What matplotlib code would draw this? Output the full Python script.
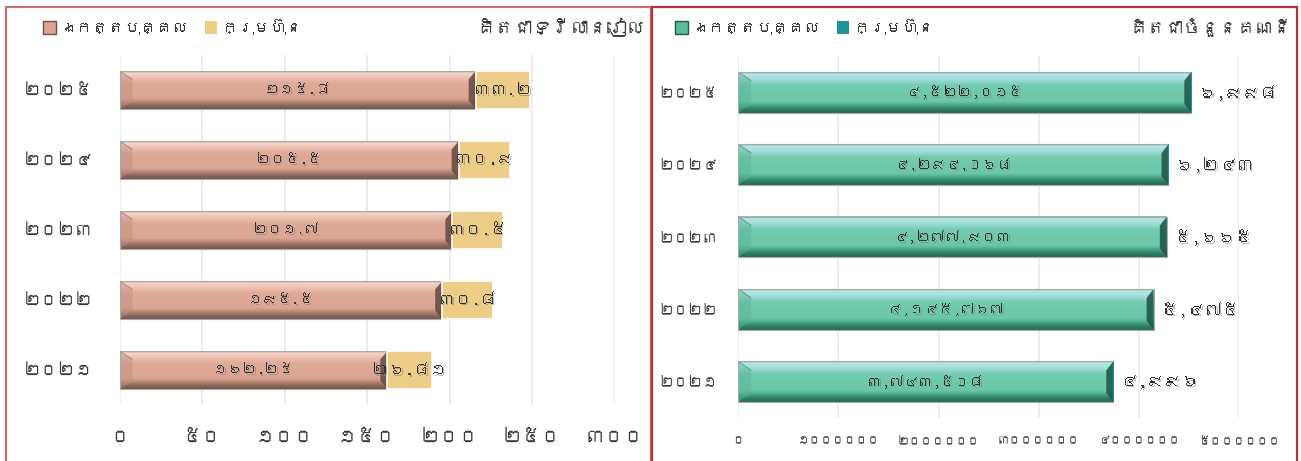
import numpy as np
import matplotlib
matplotlib.use("Agg")
import matplotlib.pyplot as plt
from matplotlib import font_manager, patheffects as pe
from matplotlib.ft2font import FT2Font
from matplotlib.patches import Polygon, Rectangle, Patch
from matplotlib.colors import LinearSegmentedColormap

# ---- data -------------------------------------------------------------
years = ["២០២៥", "២០២៤", "២០២៣", "២០២២", "២០២១"]

# deposits, trillion riel
individual_riel = [215.8, 205.5, 201.7, 195.5, 162.25]
company_riel = [33.2, 30.9, 30.5, 30.8, 26.81]

# number of accounts
individual_acc = [4522015, 4294068, 4277903, 4145767, 3743508]
company_acc = [6998, 6243, 5665, 5475, 4996]

legend_labels = ["ឯកត្តបុគ្គល", "ក្រុមហ៊ុន"]
title_riel = "គិតជាទ្រីលានរៀល"
title_acc = "គិតជាចំនួនគណនី"

riel_ticks = [0, 50, 100, 150, 200, 250, 300]
riel_tick_labels = ["០", "៥០", "១០០", "១៥០", "២០០", "២៥០", "៣០០"]
acc_ticks = [0, 1000000, 2000000, 3000000, 4000000, 5000000]
acc_tick_labels = ["០", "១០០០០០០", "២០០០០០០", "៣០០០០០០", "៤០០០០០០", "៥០០០០០០"]

KH_DIGITS = str.maketrans("0123456789", "០១២៣៤៥៦៧៨៩")


def fmt_riel(v):
    return f"{v:g}".translate(KH_DIGITS)


def fmt_acc(v):
    return f"{v:,}".translate(KH_DIGITS)


# ---- fonts ------------------------------------------------------------
def khmer_family():
    for f in font_manager.fontManager.ttflist:
        try:
            if 0x17E0 in FT2Font(f.fname).get_charmap():
                return f.name
        except Exception:
            pass
    return None


kh = khmer_family()
families = [kh, "DejaVu Sans"] if kh else ["DejaVu Sans"]
plt.rcParams["font.family"] = families

# ---- figure -----------------------------------------------------------
W, H = 1301, 461
fig = plt.figure(figsize=(W / 100, H / 100), dpi=100)
fig.patch.set_facecolor("white")


def axes_px(left, right, top, bottom):
    return fig.add_axes([left / W, 1 - bottom / H, (right - left) / W, (bottom - top) / H])


ax1 = axes_px(119.6, 614.6, 55, 405)
ax2 = axes_px(738.3, 1239.2, 56, 418)

SALMON_STOPS = [(0.00, "#b89a90"), (0.05, "#f5d6c9"), (0.18, "#ecc0b0"), (0.32, "#dfab99"),
                (0.72, "#dba693"), (0.81, "#b88878"), (0.91, "#8c675c"), (1.00, "#74564d")]
GREEN_STOPS = [(0.00, "#8fb5aa"), (0.05, "#b8e8e8"), (0.18, "#9fdcd6"), (0.32, "#74ccb1"),
               (0.72, "#6cc6a8"), (0.81, "#4aa88a"), (0.91, "#2d7e66"), (1.00, "#2a6a58")]

shadow = [pe.withSimplePatchShadow(offset=(1.1, -1.1), shadow_rgbFace="#7a7a7a", alpha=0.5)]


def bevel_bars(ax, pos, values, height, stops, side_col, end_col, xmax):
    ax.set_xlim(0, xmax)
    ax.set_ylim(-0.5, len(pos) - 0.5)
    bars = ax.barh(pos, values, height=height, color="none", edgecolor="#a9a9a9",
                   linewidth=0.8, zorder=4)
    cmap = LinearSegmentedColormap.from_list("bevel", stops)
    grad = np.linspace(0, 1, 200).reshape(-1, 1)
    t = ax.transData
    px_x = t.transform((1, 0))[0] - t.transform((0, 0))[0]
    bw = 13 / px_x
    ew = 7 / px_x
    bh = 0.22 * height
    for rect in bars.patches:
        x0, y0 = rect.get_x(), rect.get_y()
        w, h = rect.get_width(), rect.get_height()
        x1, y1 = x0 + w, y0 + h
        ax.imshow(grad, cmap=cmap, aspect="auto", extent=(x0, x1, y0, y1),
                  origin="upper", interpolation="bilinear", zorder=2)
        ax.add_patch(Polygon([(x0, y1), (x0 + bw, y1 - bh), (x0 + bw, y0 + bh), (x0, y0)],
                             closed=True, facecolor=side_col, edgecolor="none",
                             alpha=0.45, zorder=3))
        ax.add_patch(Polygon([(x0, y1), (x0 + bw, y1 - bh)], closed=False, fill=False,
                             edgecolor=end_col, linewidth=0.6, alpha=0.5, zorder=3))
        ax.add_patch(Polygon([(x1, y1), (x1 - ew, y1 - bh), (x1 - ew, y0 + bh), (x1, y0)],
                             closed=True, facecolor=end_col, edgecolor="none",
                             alpha=0.9, zorder=3))
    ax.set_xlim(0, xmax)
    ax.set_ylim(-0.5, len(pos) - 0.5)
    return bars


def style_axes(ax, ticks, tick_labels, xsize, ysize, xpad, ypad):
    for s in ax.spines.values():
        s.set_visible(False)
    ax.set_xticks(ticks, tick_labels)
    ax.grid(axis="x", color="#e8e8e8", linewidth=1.1, zorder=0)
    ax.set_axisbelow(True)
    ax.tick_params(axis="both", length=0, colors="#3a3a3a")
    ax.tick_params(axis="x", labelsize=xsize, pad=xpad)
    ax.tick_params(axis="y", labelsize=ysize, pad=ypad)


pos = np.arange(len(years))[::-1]

# ---- left: deposit amount --------------------------------------------
bevel_bars(ax1, pos, individual_riel, 0.54, SALMON_STOPS, "#c08f80", "#6b4d45", 300)
ax1.barh(pos, company_riel, left=individual_riel, height=0.54, color="#eecd89",
         edgecolor="white", linewidth=1.2, zorder=4)
style_axes(ax1, riel_ticks, riel_tick_labels, 14, 12.5, 17, 19)
ax1.set_yticks(pos, years)
for p, ind, com in zip(pos, individual_riel, company_riel):
    ax1.text(ind / 2, p, fmt_riel(ind), ha="center", va="center", fontsize=10.5,
             color="#333333", zorder=6, path_effects=shadow)
    ax1.text(ind + com / 2, p, fmt_riel(com), ha="center", va="center", fontsize=12,
             color="#333333", zorder=6, path_effects=shadow)

# ---- right: number of accounts ---------------------------------------
bevel_bars(ax2, pos, individual_acc, 0.565, GREEN_STOPS, "#56b496", "#1e5a4a", 5000000)
ax2.barh(pos, company_acc, left=individual_acc, height=0.565, color="#1f9399",
         edgecolor="none", zorder=4)
style_axes(ax2, acc_ticks, acc_tick_labels, 8.5, 10.5, 13, 15)
ax2.set_yticks(pos, years)
for p, ind, com in zip(pos, individual_acc, company_acc):
    ax2.text(ind / 2, p, fmt_acc(ind), ha="center", va="center", fontsize=10.5,
             color="#333333", zorder=6, path_effects=shadow)
    ax2.annotate(fmt_acc(com), xy=(ind + com, p), xytext=(5, 0), textcoords="offset points",
                 ha="left", va="center", fontsize=12.5, color="#333333", zorder=6,
                 path_effects=shadow, annotation_clip=False)

# ---- legends and unit notes ------------------------------------------
leg_kw = dict(loc="center left", ncol=2, frameon=False, handlelength=0.8, handleheight=0.8,
              handletextpad=0.3, borderaxespad=0, borderpad=0, fontsize=11.5,
              labelcolor="#3a3a3a")
fig.legend([Patch(facecolor="#d9a595", edgecolor="#6b4d45"),
            Patch(facecolor="#eecd89", edgecolor="none")], legend_labels,
           bbox_to_anchor=(43 / W, 1 - 27 / H), columnspacing=1.0, **leg_kw)
fig.legend([Patch(facecolor="#5cbf9c", edgecolor="#1e5a4a"),
            Patch(facecolor="#1f9399", edgecolor="none")], legend_labels,
           bbox_to_anchor=(675 / W, 1 - 27 / H), columnspacing=1.0, **leg_kw)

fig.text(645 / W, 1 - 27 / H, title_riel, ha="right", va="center", fontsize=13.5,
         color="#3a3a3a")
fig.text(1291 / W, 1 - 27 / H, title_acc, ha="right", va="center", fontsize=13,
         color="#3a3a3a")

# ---- panel frames -----------------------------------------------------
fig.add_artist(Rectangle((6 / W, -0.1), (651 - 6) / W, 1.1 - 7 / H, transform=fig.transFigure,
                         fill=False, edgecolor="#c46f6f", linewidth=1.6))
fig.add_artist(Rectangle((652 / W, -0.1), (1297 - 652) / W, 1.1 - 7 / H,
                         transform=fig.transFigure, fill=False, edgecolor="#b03434",
                         linewidth=1.6))

fig.savefig("out.png", dpi=100)
